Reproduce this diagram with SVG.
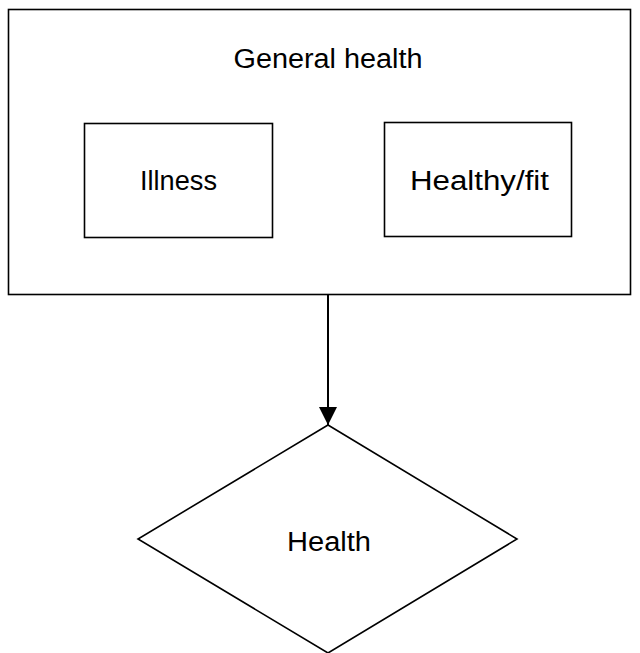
<svg xmlns="http://www.w3.org/2000/svg" width="640" height="653" viewBox="0 0 640 653">
<style>
.shape{fill:#fff;stroke:#000;stroke-width:1.6}
.lbl{font-family:"Liberation Sans",Arial,sans-serif;font-size:27px;fill:#000;text-anchor:middle}
.conn{stroke:#000;stroke-width:2;fill:none}
</style>
<defs>
<marker id="arrow" markerUnits="userSpaceOnUse" markerWidth="20" markerHeight="20" refX="18" refY="9" orient="auto">
<path d="M0,0 L18,9 L0,18 Z" fill="#000"/>
</marker>
</defs>
<rect width="640" height="653" fill="#fff"/>
<g id="general-health">
<rect class="shape" x="8.5" y="9.5" width="622" height="285"/>
<text class="lbl" x="328" y="68" textLength="189" lengthAdjust="spacingAndGlyphs">General health</text>
</g>
<g id="illness">
<rect class="shape" x="84.5" y="123.5" width="188" height="114"/>
<text class="lbl" x="178.5" y="190" textLength="77" lengthAdjust="spacingAndGlyphs">Illness</text>
</g>
<g id="healthy-fit">
<rect class="shape" x="384.5" y="122.5" width="187" height="114"/>
<text class="lbl" x="479.5" y="190" textLength="139" lengthAdjust="spacingAndGlyphs">Healthy/fit</text>
</g>
<g id="health">
<polygon class="shape" points="328,425 517,539 328,653 138,539"/>
<text class="lbl" x="329" y="551" textLength="84" lengthAdjust="spacingAndGlyphs">Health</text>
</g>
<g id="connectors">
<line class="conn" x1="328" y1="295" x2="328" y2="425" marker-end="url(#arrow)"/>
</g>
</svg>
